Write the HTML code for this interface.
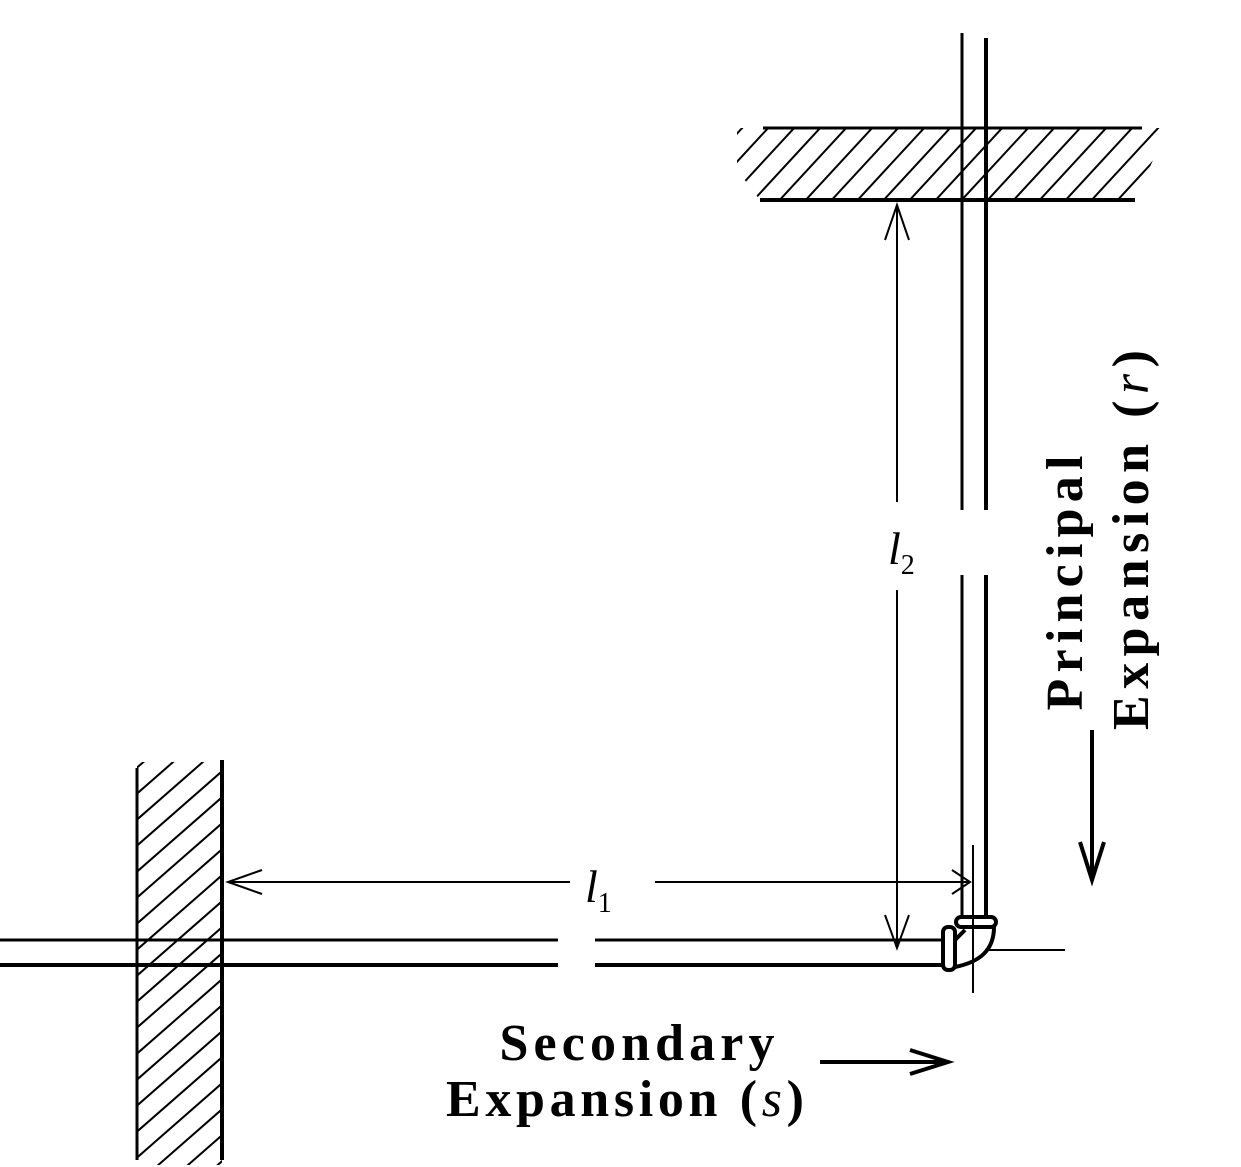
<!DOCTYPE html>
<html><head><style>
html,body{margin:0;padding:0;background:#fff;overflow:hidden;width:1241px;height:1167px;}
svg{display:block;}
text{font-family:"Liberation Serif",serif;fill:#000;}
</style></head><body>
<svg width="1241" height="1167" viewBox="0 0 1241 1167">
<defs>
<clipPath id="cTop"><polygon points="737,128 1142,128 1163,128 1163,138 1135,200 760,200 737,170"/></clipPath>
<clipPath id="cLeft"><rect x="137" y="762" width="85" height="403"/></clipPath>
</defs>
<g stroke="#000" stroke-width="2" clip-path="url(#cTop)">
<line x1="700" y1="230" x2="820" y2="100"/><line x1="726" y1="230" x2="846" y2="100"/><line x1="752" y1="230" x2="872" y2="100"/><line x1="778" y1="230" x2="898" y2="100"/><line x1="804" y1="230" x2="924" y2="100"/><line x1="830" y1="230" x2="950" y2="100"/><line x1="856" y1="230" x2="976" y2="100"/><line x1="882" y1="230" x2="1002" y2="100"/><line x1="908" y1="230" x2="1028" y2="100"/><line x1="934" y1="230" x2="1054" y2="100"/><line x1="960" y1="230" x2="1080" y2="100"/><line x1="986" y1="230" x2="1106" y2="100"/><line x1="1012" y1="230" x2="1132" y2="100"/><line x1="1038" y1="230" x2="1158" y2="100"/><line x1="1064" y1="230" x2="1184" y2="100"/><line x1="1090" y1="230" x2="1210" y2="100"/><line x1="1116" y1="230" x2="1236" y2="100"/><line x1="674" y1="230" x2="794" y2="100"/><line x1="648" y1="230" x2="768" y2="100"/>
</g>
<g stroke="#000" stroke-width="2" clip-path="url(#cLeft)">
<line x1="100" y1="800" x2="260" y2="660"/><line x1="100" y1="826" x2="260" y2="686"/><line x1="100" y1="852" x2="260" y2="712"/><line x1="100" y1="878" x2="260" y2="738"/><line x1="100" y1="904" x2="260" y2="764"/><line x1="100" y1="930" x2="260" y2="790"/><line x1="100" y1="956" x2="260" y2="816"/><line x1="100" y1="982" x2="260" y2="842"/><line x1="100" y1="1008" x2="260" y2="868"/><line x1="100" y1="1034" x2="260" y2="894"/><line x1="100" y1="1060" x2="260" y2="920"/><line x1="100" y1="1086" x2="260" y2="946"/><line x1="100" y1="1112" x2="260" y2="972"/><line x1="100" y1="1138" x2="260" y2="998"/><line x1="100" y1="1164" x2="260" y2="1024"/><line x1="100" y1="1190" x2="260" y2="1050"/><line x1="100" y1="1216" x2="260" y2="1076"/><line x1="100" y1="1242" x2="260" y2="1102"/><line x1="100" y1="1268" x2="260" y2="1128"/><line x1="100" y1="1294" x2="260" y2="1154"/>
</g>
<g stroke="#000" fill="none">
<line x1="763" y1="128" x2="1142" y2="128" stroke-width="3"/>
<line x1="760" y1="200" x2="1135" y2="200" stroke-width="4"/>
<line x1="137" y1="768" x2="137" y2="1160" stroke-width="3"/>
<line x1="222" y1="760" x2="222" y2="1160" stroke-width="4"/>
<line x1="962" y1="33" x2="962" y2="510" stroke-width="3"/>
<line x1="986" y1="38" x2="986" y2="510" stroke-width="4"/>
<line x1="962" y1="575" x2="962" y2="918" stroke-width="3"/>
<line x1="986" y1="575" x2="986" y2="918" stroke-width="4"/>
<line x1="0" y1="940" x2="558" y2="940" stroke-width="3"/>
<line x1="0" y1="965" x2="558" y2="965" stroke-width="4"/>
<line x1="595" y1="940" x2="945" y2="940" stroke-width="3"/>
<line x1="595" y1="965" x2="945" y2="965" stroke-width="4"/>
<line x1="985" y1="950" x2="1065" y2="950" stroke-width="2"/>
<line x1="973" y1="845" x2="973" y2="993" stroke-width="2"/>
<rect x="956" y="917" width="40" height="10" rx="5" stroke-width="4"/>
<rect x="943" y="927" width="12" height="43" rx="5" stroke-width="4"/>
<path d="M955 940 L965 930 M994 927 C994 950 980 962 955 967" stroke-width="4"/>
<line x1="228" y1="882" x2="570" y2="882" stroke-width="2"/>
<line x1="655" y1="882" x2="970" y2="882" stroke-width="2"/>
<path d="M262 870 L228 882 L262 894" stroke-width="2"/>
<path d="M952 870 L970 882 L952 894" stroke-width="2"/>
<line x1="897" y1="205" x2="897" y2="502" stroke-width="2"/>
<line x1="897" y1="590" x2="897" y2="948" stroke-width="2"/>
<path d="M885 240 L897 205 L909 240" stroke-width="2"/>
<path d="M885 915 L897 948 L909 915" stroke-width="2"/>
<line x1="820" y1="1062" x2="945" y2="1062" stroke-width="4"/>
<path d="M910 1050 L948 1062 L910 1074" stroke-width="4"/>
<line x1="1092" y1="730" x2="1092" y2="878" stroke-width="4"/>
<path d="M1080 842 L1092 880 L1104 842" stroke-width="4"/>
</g>
<text x="585" y="902" font-size="46" font-style="italic">l<tspan font-size="28" font-style="normal" dy="10">1</tspan></text>
<text x="888" y="564" font-size="46" font-style="italic">l<tspan font-size="28" font-style="normal" dy="10">2</tspan></text>
<text x="637" y="1060" font-size="52" font-weight="bold" text-anchor="middle" textLength="275" lengthAdjust="spacing">Secondary</text>
<text x="625" y="1116" font-size="52" font-weight="bold" text-anchor="middle" textLength="358" lengthAdjust="spacing">Expansion (<tspan font-style="italic" font-weight="normal">s</tspan>)</text>
<text transform="translate(1082,583) rotate(-90)" font-size="52" font-weight="bold" text-anchor="middle" textLength="255" lengthAdjust="spacing">Principal</text>
<text transform="translate(1148,540) rotate(-90)" font-size="52" font-weight="bold" text-anchor="middle" textLength="380" lengthAdjust="spacing">Expansion (<tspan font-style="italic" font-weight="normal">r</tspan>)</text>
</svg>
</body></html>
